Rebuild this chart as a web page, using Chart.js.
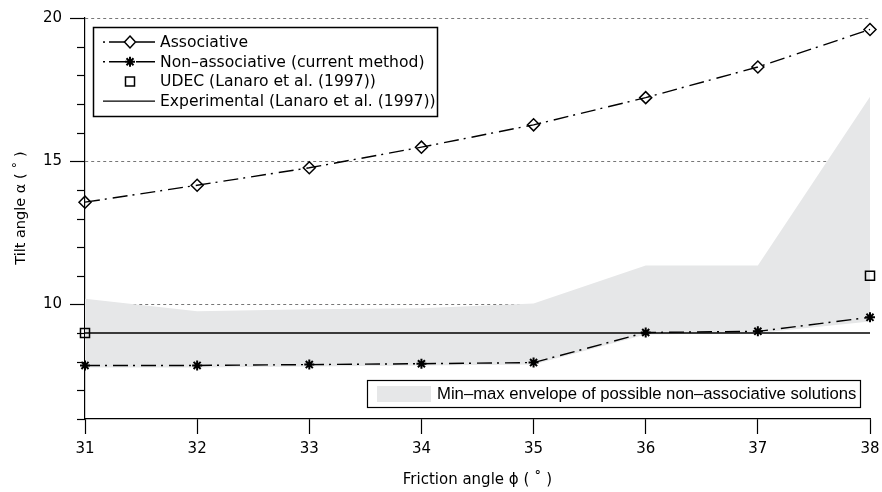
<!DOCTYPE html>
<html>
<head>
<meta charset="utf-8">
<script src="https://cdn.jsdelivr.net/npm/chart.js@4.4.0/dist/chart.umd.min.js"></script>
<style>html,body{margin:0;padding:0;background:#fff}</style>
</head>
<body>
<canvas id="tilt" width="882" height="492"></canvas>
<script>
// values
var frictionAngles = [31, 32, 33, 34, 35, 36, 37, 38];
var associative = [13.57, 14.16, 14.77, 15.49, 16.27, 17.22, 18.29, 19.6];
var nonAssociative = [7.87, 7.87, 7.9, 7.93, 7.97, 9.02, 9.06, 9.55];
var udecAngles = [31, 38];
var udecTilt = [9.0, 11.0];
var experimental = [9, 9, 9, 9, 9, 9, 9, 9];
var envelopeMax = [10.2, 9.76, 9.83, 9.87, 10.03, 11.36, 11.36, 17.25];
var envelopeMin = [7.8, 7.8, 7.83, 7.87, 7.9, 8.95, 9.0, 9.4];
var yLabelled = [10, 15, 20];

var legendRows = [
  {kind: 'diamond', text: 'Associative'},
  {kind: 'star', text: 'Non\u2013associative (current method)'},
  {kind: 'square', text: 'UDEC (Lanaro et al. (1997))'},
  {kind: 'solid', text: 'Experimental (Lanaro et al. (1997))'}
];
var envelopeText = 'Min\u2013max envelope of possible non\u2013associative solutions';
var yTitle = 'Tilt angle \u03b1 ( \u02da )';

var dashDot = [15, 5, 2, 6];
var grey = '#e6e7e8';
var font = 'DejaVu Sans';

function pts(xs, ys) {
  return xs.map(function (x, i) { return {x: x, y: ys[i]}; });
}

function marker(ctx, kind, cx, cy) {
  ctx.beginPath();
  if (kind === 'diamond') {
    ctx.moveTo(cx, cy - 6); ctx.lineTo(cx + 5.5, cy); ctx.lineTo(cx, cy + 6); ctx.lineTo(cx - 5.5, cy); ctx.closePath();
    ctx.lineWidth = 1.5; ctx.stroke();
  } else if (kind === 'star') {
    ctx.moveTo(cx - 5, cy); ctx.lineTo(cx + 5, cy);
    ctx.moveTo(cx, cy - 5); ctx.lineTo(cx, cy + 5);
    ctx.moveTo(cx - 3.5, cy - 3.5); ctx.lineTo(cx + 3.5, cy + 3.5);
    ctx.moveTo(cx + 3.5, cy - 3.5); ctx.lineTo(cx - 3.5, cy + 3.5);
    ctx.lineWidth = 2; ctx.stroke();
  } else if (kind === 'square') {
    ctx.rect(cx - 4.5, cy - 4.5, 9, 9);
    ctx.lineWidth = 1.5; ctx.stroke();
  }
}

var decorations = {
  id: 'decorations',
  afterDraw: function (chart) {
    var ctx = chart.ctx, ys = chart.scales.y, area = chart.chartArea;
    ctx.save();
    ctx.strokeStyle = '#000';
    ctx.fillStyle = '#000';
    ctx.setLineDash([]);

    // y tick marks, long for labelled values
    ctx.lineWidth = 1.2;
    ys.ticks.forEach(function (t) {
      var py = Math.round(ys.getPixelForValue(t.value)) + 0.5;
      var len = yLabelled.indexOf(t.value) >= 0 ? 15 : 8;
      ctx.beginPath(); ctx.moveTo(ys.right - len, py); ctx.lineTo(ys.right, py); ctx.stroke();
    });

    // y axis title (sits a little above the axis centre in the original)
    ctx.save();
    ctx.translate(21, 208);
    ctx.rotate(-Math.PI / 2);
    ctx.font = '14.5px "' + font + '"';
    ctx.textAlign = 'center';
    ctx.textBaseline = 'middle';
    ctx.fillText(yTitle, 0, 0);
    ctx.restore();

    // main legend
    var lx = area.left + 8, ly = area.top + 9, lw = 344, lh = 89;
    ctx.fillStyle = '#fff';
    ctx.fillRect(lx, ly, lw, lh);
    ctx.lineWidth = 1.5;
    ctx.strokeRect(lx + 0.5, ly + 0.5, lw, lh);
    ctx.fillStyle = '#000';
    ctx.font = '15.6px "' + font + '"';
    ctx.textBaseline = 'middle';
    legendRows.forEach(function (row, i) {
      var cy = ly + 15 + i * 19.7, cx = lx + 37;
      ctx.lineWidth = 1.4;
      if (row.kind === 'diamond' || row.kind === 'star') {
        ctx.fillRect(lx + 10, cy - 0.7, 2, 1.5);
        ctx.beginPath(); ctx.moveTo(lx + 16, cy); ctx.lineTo(cx - 5, cy);
        ctx.moveTo(cx + 6, cy); ctx.lineTo(lx + 62, cy); ctx.stroke();
      } else if (row.kind === 'solid') {
        ctx.beginPath(); ctx.moveTo(lx + 10, cy); ctx.lineTo(lx + 62, cy); ctx.stroke();
      }
      marker(ctx, row.kind, cx, cy);
      ctx.fillText(row.text, lx + 67, cy + 1);
    });

    // envelope legend
    var bx = 367, by = 380, bw = 493, bh = 27;
    ctx.fillStyle = '#fff';
    ctx.fillRect(bx, by, bw, bh);
    ctx.lineWidth = 1.2;
    ctx.strokeRect(bx + 0.5, by + 0.5, bw, bh);
    ctx.fillStyle = grey;
    ctx.fillRect(bx + 10, by + 6, 54, 16);
    ctx.fillStyle = '#000';
    ctx.font = '16.7px "Liberation Sans"';
    ctx.fillText(envelopeText, bx + 70, by + 14);
    ctx.restore();
  }
};

var lineBase = {
  borderColor: '#000',
  borderWidth: 1.4,
  pointBorderColor: '#000',
  pointBackgroundColor: 'rgba(0,0,0,0)',
  tension: 0,
  clip: false
};

new Chart(document.getElementById('tilt'), {
  type: 'scatter',
  data: {
    datasets: [
      Object.assign({}, lineBase, {
        label: 'Associative',
        data: pts(frictionAngles, associative),
        showLine: true,
        borderDash: dashDot,
        pointStyle: 'rectRot',
        pointRadius: 6,
        pointBorderWidth: 1.5
      }),
      Object.assign({}, lineBase, {
        label: 'Non-associative (current method)',
        data: pts(frictionAngles, nonAssociative),
        showLine: true,
        borderDash: dashDot,
        pointStyle: 'star',
        pointRadius: 5,
        pointBorderWidth: 2
      }),
      Object.assign({}, lineBase, {
        label: 'UDEC (Lanaro et al. (1997))',
        data: pts(udecAngles, udecTilt),
        showLine: false,
        pointStyle: 'rect',
        pointRadius: 6.4,
        pointBorderWidth: 1.5
      }),
      Object.assign({}, lineBase, {
        label: 'Experimental (Lanaro et al. (1997))',
        data: pts(frictionAngles, experimental),
        showLine: true,
        borderWidth: 1.5,
        pointRadius: 0
      }),
      {
        label: 'Envelope max',
        data: pts(frictionAngles, envelopeMax),
        showLine: true,
        borderColor: 'rgba(0,0,0,0)',
        backgroundColor: grey,
        fill: '+1',
        pointRadius: 0,
        tension: 0
      },
      {
        label: 'Envelope min',
        data: pts(frictionAngles, envelopeMin),
        showLine: true,
        borderColor: 'rgba(0,0,0,0)',
        fill: false,
        pointRadius: 0,
        tension: 0
      }
    ]
  },
  options: {
    responsive: false,
    animation: false,
    devicePixelRatio: 1,
    layout: {padding: {top: 18, right: 12, left: 0, bottom: 0}},
    plugins: {legend: {display: false}, tooltip: {enabled: false}},
    scales: {
      x: {
        type: 'linear',
        min: 31,
        max: 38,
        afterFit: function (s) { s.height = 73; s.paddingLeft = 0; s.paddingRight = 0; },
        ticks: {stepSize: 1, color: '#000', padding: 6, font: {family: font, size: 15}},
        grid: {drawOnChartArea: false, drawTicks: true, tickLength: 15, tickColor: '#000', tickWidth: 1.2},
        border: {color: '#000', width: 1.2},
        title: {display: true, text: 'Friction angle \u03d5 ( \u02da )', color: '#000',
          font: {family: font, size: 15}, padding: {top: 0, bottom: 3}}
      },
      y: {
        type: 'linear',
        min: 6,
        max: 20,
        afterFit: function (s) { s.width = 85; s.paddingTop = 0; s.paddingBottom = 0; },
        ticks: {
          stepSize: 1,
          color: '#000',
          padding: 23,
          font: {family: font, size: 15},
          callback: function (v) { return yLabelled.indexOf(v) >= 0 ? String(v) : ''; }
        },
        grid: {
          drawTicks: false,
          lineWidth: 1,
          color: function (c) { return c.tick && yLabelled.indexOf(c.tick.value) >= 0 ? '#777' : 'rgba(0,0,0,0)'; }
        },
        border: {color: '#000', width: 1.2, dash: [3, 3]},
        title: {display: false}
      }
    }
  },
  plugins: [decorations]
});
</script>
</body>
</html>
